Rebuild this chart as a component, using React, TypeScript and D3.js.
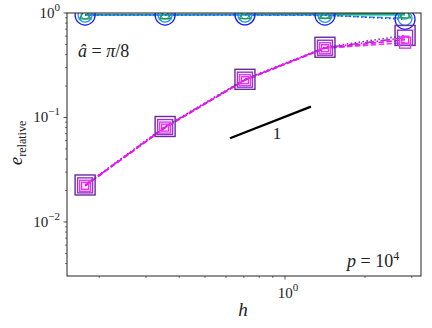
import React from "react";
import * as d3 from "d3";

const hValues = [0.177, 0.354, 0.707, 1.414, 2.83];

const blueCircle = [0.955, 0.955, 0.96, 0.955, 0.87];
const azureCircle = [0.955, 0.955, 0.955, 0.95, 0.89];
const tealCircle = [0.955, 0.958, 0.96, 0.962, 0.955];
const greenTriangle = [0.965, 0.968, 0.972, 0.978, 0.985];

const darkPurpleSquare = [0.0226, 0.082, 0.232, 0.47, 0.61];
const purpleSquare = [0.0224, 0.081, 0.23, 0.465, 0.58];
const violetSquare = [0.0222, 0.08, 0.228, 0.46, 0.52];
const magentaSquare = [0.0222, 0.08, 0.228, 0.46, 0.555];

const slopeX = [0.621, 1.252];
const slopeY = [0.0632, 0.127];

const yMajorTicks = [1, 0.1, 0.01];
const yMajorExp = ["0", "−1", "−2"];
const xMajorTicks = [1];
const xMajorExp = ["0"];

type Series = {
  values: number[];
  color: string;
  lineColor: string;
  dash: string;
  marker: "circle" | "square" | "triangle";
  size: number;
  width: number;
};

const series: Series[] = [
  { values: tealCircle, color: "#17becf", lineColor: "#17becf", dash: "", marker: "circle", size: 4, width: 1.5 },
  { values: greenTriangle, color: "#1a9a3a", lineColor: "#1a9a3a", dash: "", marker: "triangle", size: 5, width: 1.5 },
  { values: azureCircle, color: "#1e90ff", lineColor: "#33a0ff", dash: "5.5,2.4", marker: "circle", size: 7, width: 1.5 },
  { values: blueCircle, color: "#1a1aff", lineColor: "#2040ff", dash: "1.5,2.5", marker: "circle", size: 10, width: 1.5 },
  { values: darkPurpleSquare, color: "#6a2a9a", lineColor: "#7a2aaa", dash: "1.5,2.5", marker: "square", size: 10, width: 1.6 },
  { values: purpleSquare, color: "#9933cc", lineColor: "#aa33dd", dash: "9.6,2.4,1.5,2.4", marker: "square", size: 7.5, width: 1.6 },
  { values: violetSquare, color: "#cc44ee", lineColor: "#dd44ee", dash: "5.5,2.4", marker: "square", size: 5.5, width: 1.6 },
  { values: magentaSquare, color: "#ff22ff", lineColor: "#ff00ff", dash: "5.5,2.4", marker: "square", size: 3.5, width: 1.6 },
];

const W = 432;
const H = 328;
const L = 67;
const R = 421;
const T = 13;
const B = 276;

export default function App() {
  const x = d3.scaleLog().domain([0.1513, 3.249]).range([L, R]);
  const y = d3.scaleLog().domain([0.00304, 1]).range([B, T]);

  const yMinor: number[] = [];
  for (const base of [0.001, 0.01, 0.1]) {
    for (let k = 2; k <= 9; k++) {
      const v = base * k;
      if (v >= 0.00304 && v <= 1) yMinor.push(v);
    }
  }
  const xMinor: number[] = [];
  for (const base of [0.1, 1]) {
    for (let k = 2; k <= 9; k++) {
      const v = base * k;
      if (v >= 0.1513 && v <= 3.249) xMinor.push(v);
    }
  }

  const line = d3
    .line<number>()
    .x((_, i) => x(hValues[i]))
    .y((d) => y(d));

  const fs = { fontFamily: "'Liberation Serif', 'DejaVu Serif', serif" };

  const marker = (s: Series, i: number, v: number) => {
    const cx = x(hValues[i]);
    const cy = y(v);
    if (s.marker === "circle")
      return <circle key={i} cx={cx} cy={cy} r={s.size} fill="none" stroke={s.color} strokeWidth={1.3} />;
    if (s.marker === "square")
      return (
        <rect key={i} x={cx - s.size} y={cy - s.size} width={2 * s.size} height={2 * s.size} fill="none" stroke={s.color} strokeWidth={1.4} />
      );
    const r = s.size;
    const tri = d3.symbol().type(d3.symbolTriangle).size(r * r * 2.2)();
    return <path key={i} d={tri || ""} transform={`translate(${cx},${cy + 1})`} fill="none" stroke={s.color} strokeWidth={1.3} />;
  };

  return (
    <svg width={W} height={H} style={{ position: "absolute", left: 0, top: 0, background: "#fff" }}>
      <defs>
        <clipPath id="plotclip">
          <rect x={L} y={T} width={R - L} height={B - T} />
        </clipPath>
      </defs>
      <rect x={0} y={0} width={W} height={H} fill="#fff" />
      <g clipPath="url(#plotclip)">
        {series.map((s, si) => (
          <path
            key={"l" + si}
            d={line(s.values) || ""}
            fill="none"
            stroke={s.lineColor}
            strokeWidth={s.width}
            strokeDasharray={s.dash}
          />
        ))}
        {series.map((s, si) => (
          <g key={"m" + si}>{s.values.map((v, i) => marker(s, i, v))}</g>
        ))}
        <line x1={x(slopeX[0])} y1={y(slopeY[0])} x2={x(slopeX[1])} y2={y(slopeY[1])} stroke="#000" strokeWidth={2.2} />
      </g>
      <text x={277} y={139} style={fs} fontSize={17} textAnchor="middle" fill="#222">1</text>

      <rect x={L} y={T} width={R - L} height={B - T} fill="none" stroke="#222" strokeWidth={1} />

      {yMajorTicks.map((t, i) => (
        <g key={"ym" + i}>
          <line x1={L - 3.5} x2={L} y1={y(t)} y2={y(t)} stroke="#222" strokeWidth={0.8} />
          <text x={L - 7} y={y(t) + 5} style={fs} fontSize={15} textAnchor="end" fill="#222">
            10<tspan dy={-7} fontSize={11}>{yMajorExp[i]}</tspan>
          </text>
        </g>
      ))}
      {yMinor.map((t, i) => (
        <line key={"yn" + i} x1={L - 2} x2={L} y1={y(t)} y2={y(t)} stroke="#222" strokeWidth={0.6} />
      ))}

      {xMajorTicks.map((t, i) => (
        <g key={"xm" + i}>
          <line x1={x(t)} x2={x(t)} y1={B} y2={B + 3.5} stroke="#222" strokeWidth={0.8} />
          <text x={x(t) + 3} y={B + 22} style={fs} fontSize={15} textAnchor="middle" fill="#222">
            10<tspan dy={-7} fontSize={11}>{xMajorExp[i]}</tspan>
          </text>
        </g>
      ))}
      {xMinor.map((t, i) => (
        <line key={"xn" + i} x1={x(t)} x2={x(t)} y1={B} y2={B + 2} stroke="#222" strokeWidth={0.6} />
      ))}

      <text x={243} y={316} style={fs} fontSize={19} fontStyle="italic" textAnchor="middle" fill="#222">h</text>
      <text transform="translate(22,143) rotate(-90)" style={fs} fontSize={19} textAnchor="middle" fill="#222">
        <tspan fontStyle="italic">e</tspan>
        <tspan fontSize={12} dy={4}>relative</tspan>
      </text>

      <text x={78} y={57} style={fs} fontSize={18} fill="#222">
        <tspan fontStyle="italic">â</tspan> = <tspan fontStyle="italic">π</tspan>/8
      </text>
      <text x={347} y={267} style={fs} fontSize={18} fill="#222">
        <tspan fontStyle="italic">p</tspan> = 10<tspan dy={-7} fontSize={12}>4</tspan>
      </text>
    </svg>
  );
}
